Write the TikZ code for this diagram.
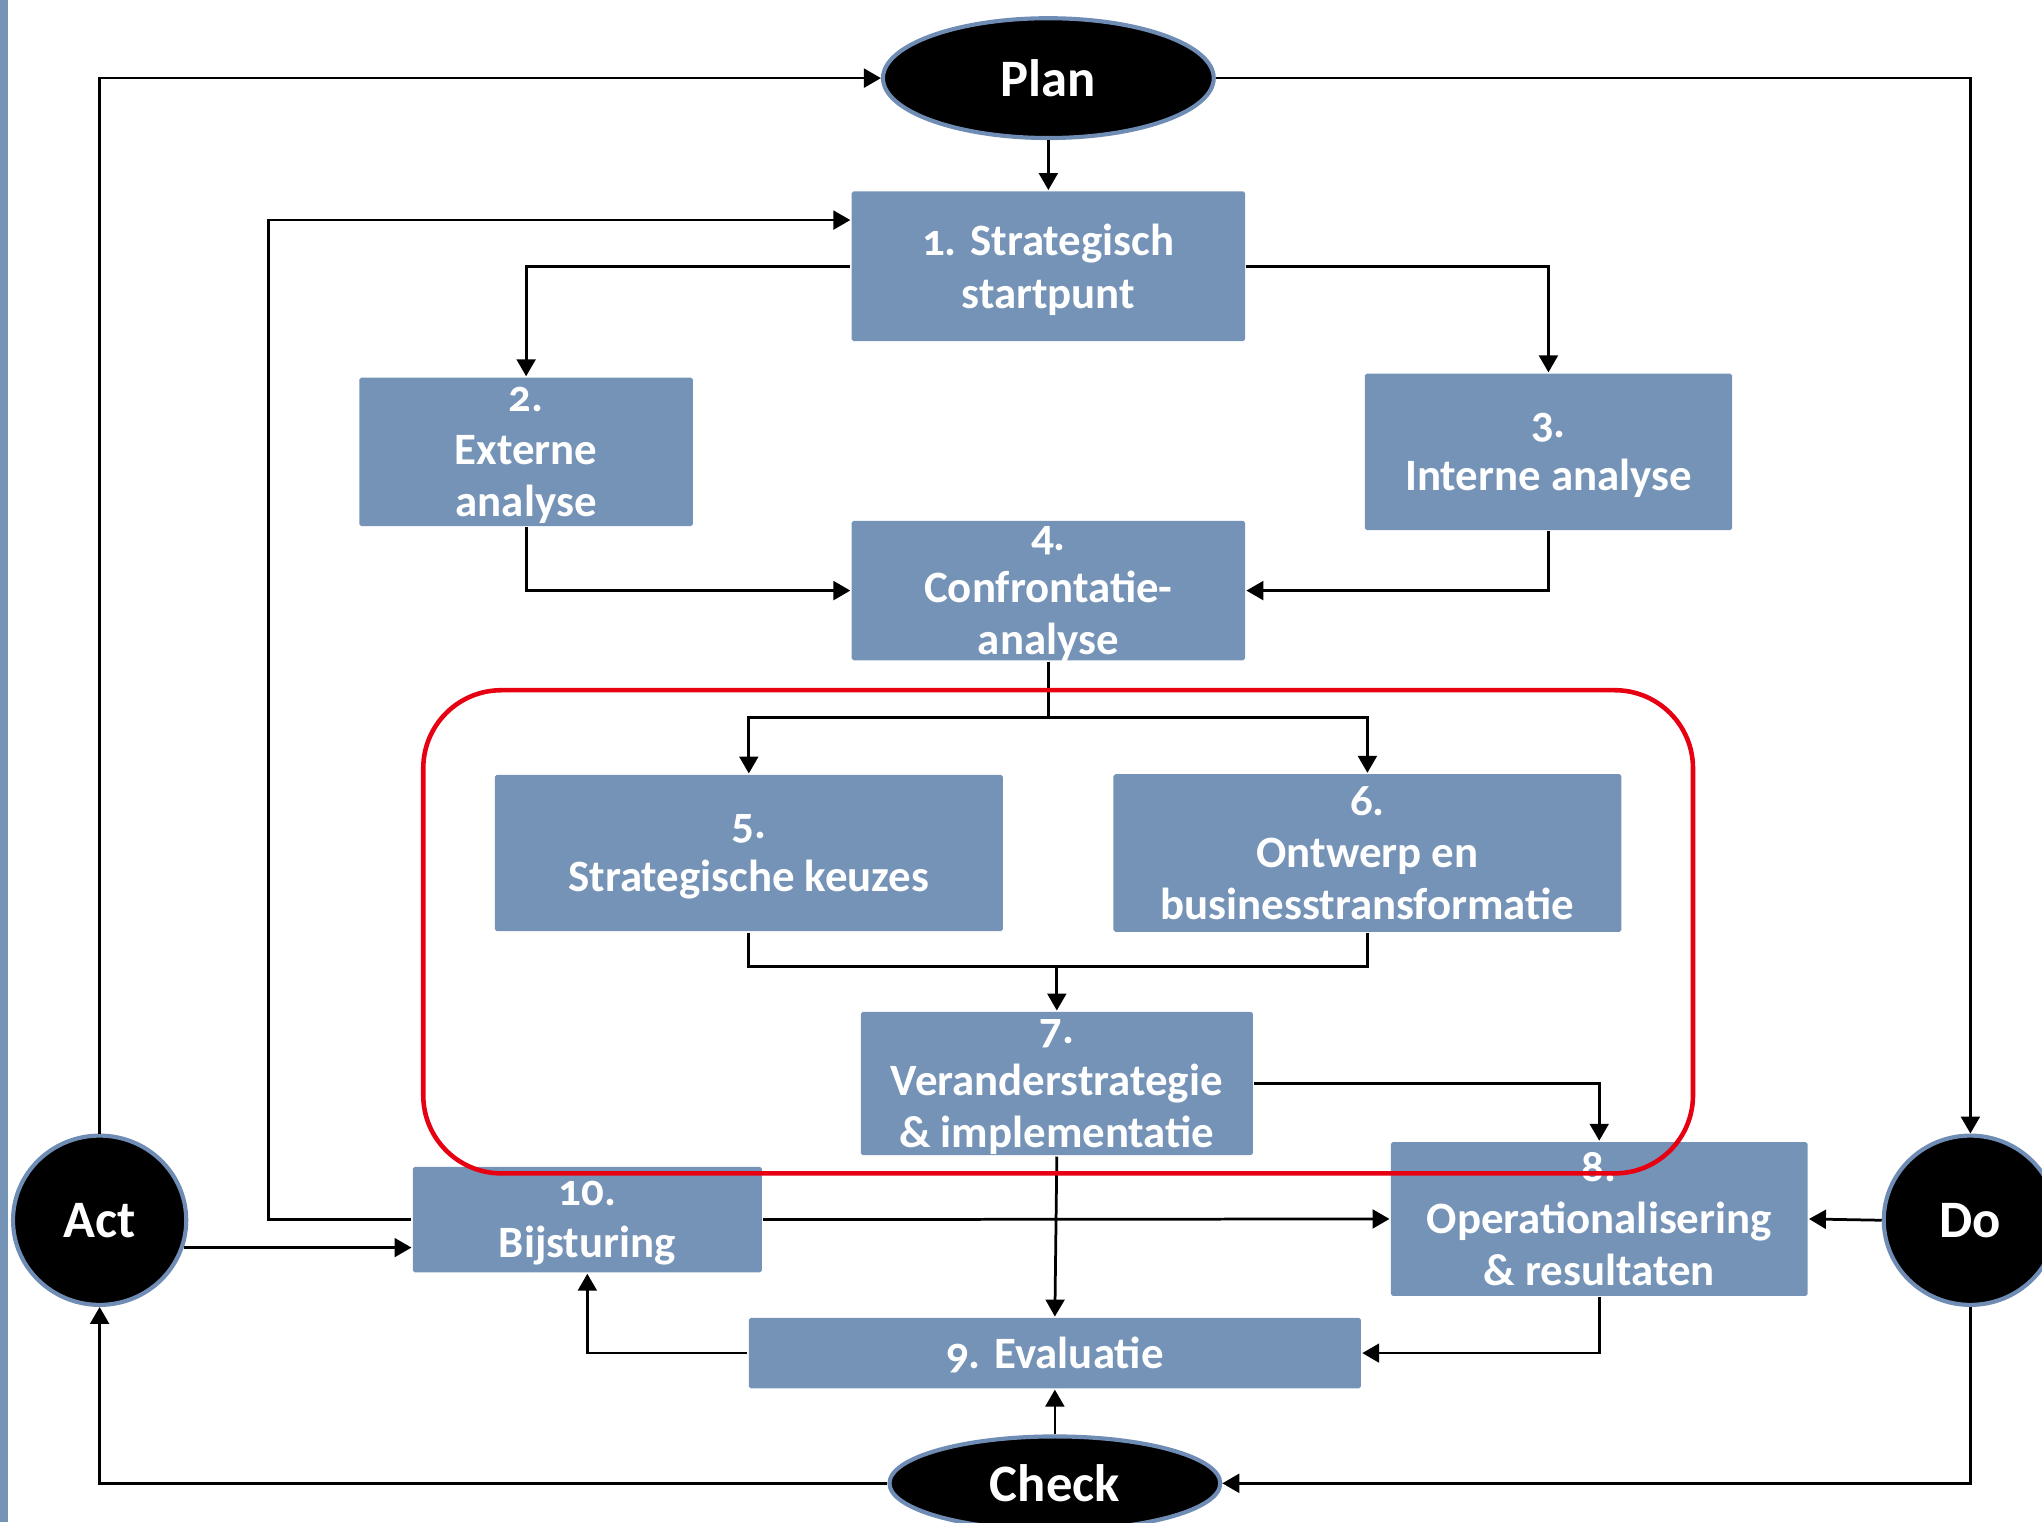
\documentclass[tikz,border=0pt]{standalone}
\usepackage{fontspec}
\setmainfont{Carlito}[Numbers=OldStyle]
\usetikzlibrary{shapes.geometric,arrows.meta}
\definecolor{boxblue}{RGB}{117,147,183}
\definecolor{rimblue}{RGB}{110,140,180}
\definecolor{loopred}{RGB}{230,0,18}

\begin{document}
\begin{tikzpicture}
        [x=1cm,y=1cm,line width=0.6pt,
         box/.style={rectangle,fill=boxblue,text=white,align=center,inner sep=0pt,text depth=0pt,rounded corners=0.4pt,font=\bfseries\fontsize{9.8}{11.4}\selectfont},
         oval/.style={ellipse,fill=black,draw=rimblue,line width=0.9pt,text=white,inner sep=0pt,font=\bfseries\fontsize{11.5}{13}\selectfont},
         arr/.style={-{Triangle[length=3.7pt,width=4.1pt]}}]
        \useasboundingbox (0,0) rectangle (15.68,11.69);
        \fill[boxblue] (0,0) rectangle (0.06,11.69);

        \node[oval,minimum width=2.54cm,minimum height=0.92cm] (plan) at (8.05,11.09) {Plan};
        \node[oval,minimum width=1.33cm,minimum height=1.30cm] (do) at (15.13,2.32) {Do};
        \node[oval,minimum width=2.54cm,minimum height=0.72cm] (check) at (8.10,0.30) {Check};
        \node[oval,minimum width=1.33cm,minimum height=1.30cm] (act) at (0.765,2.32) {Act};

        \node[box,minimum width=3.02cm,minimum height=1.15cm] (b1) at (8.05,9.645) {1. Strategisch\\startpunt};
        \node[box,minimum width=2.56cm,minimum height=1.14cm] (b2) at (4.04,8.22) {2.\\Externe\\analyse};
        \node[box,minimum width=2.82cm,minimum height=1.20cm] (b3) at (11.89,8.22) {3.\\Interne analyse};
        \node[box,minimum width=3.02cm,minimum height=1.07cm] (b4) at (8.05,7.155) {4.\\Confrontatie-\\analyse};
        \node[box,minimum width=3.90cm,minimum height=1.20cm] (b5) at (5.75,5.14) {5.\\Strategische keuzes};
        \node[box,minimum width=3.90cm,minimum height=1.21cm] (b6) at (10.50,5.14) {6.\\Ontwerp en\\businesstransformatie};
        \node[box,minimum width=3.01cm,minimum height=1.10cm] (b7) at (8.115,3.37) {7.\\Veranderstrategie\\\& implementatie};
        \node[box,minimum width=3.20cm,minimum height=1.18cm] (b8) at (12.28,2.33) {8.\\Operationalisering\\\& resultaten};
        \node[box,minimum width=4.70cm,minimum height=0.54cm] (b9) at (8.10,1.30) {9. Evaluatie};
        \node[box,minimum width=2.68cm,minimum height=0.81cm] (b10) at (4.51,2.325) {10.\\Bijsturing};

        \coordinate (split) at ([yshift=-4.3mm]b4.south);
        \coordinate (join) at ([yshift=3.4mm]b7.north);

        \draw[arr] (act.north) |- (plan.west);
        \draw[arr] (plan.east) -| (do.north);
        \draw[arr] (do.south) |- (check.east);
        \draw[arr] (check.west) -| (act.south);

        \draw[arr] (plan) -- (b1);
        \draw[arr] (b10.west) -- ++(-1.10,0) |- ([yshift=3.55mm]b1.west);
        \draw[arr] (b1.west) -| (b2.north);
        \draw[arr] (b1.east) -| (b3.north);
        \draw[arr] (b2.south) |- (b4.west);
        \draw[arr] (b3.south) |- (b4.east);
        \draw (b4.south) -- (split);
        \draw[arr] (split) -| (b5.north);
        \draw[arr] (split) -| (b6.north);
        \draw (b5.south) |- (join) -| (b6.south);
        \draw[arr] (join) -- (b7.north);
        \draw[arr] (b7.east) -| (b8.north);
        \draw[arr] (b7.south) -- (b9.north);
        \draw[arr] (b10.east) -- (b8.west);
        \draw[arr] (do.west) -- (b8.east);
        \draw[arr] (b8.south) |- (b9.east);
        \draw[arr] (b9.west) -| (b10.south);
        \draw[arr] (check.north) -- (b9.south);
        \draw[arr] (act.-18) -- (act.-18 -| b10.west);

        \draw[loopred,line width=1pt,rounded corners=0.6cm] (3.25,2.68) rectangle (13.00,6.39);
    \end{tikzpicture}
\end{document}
